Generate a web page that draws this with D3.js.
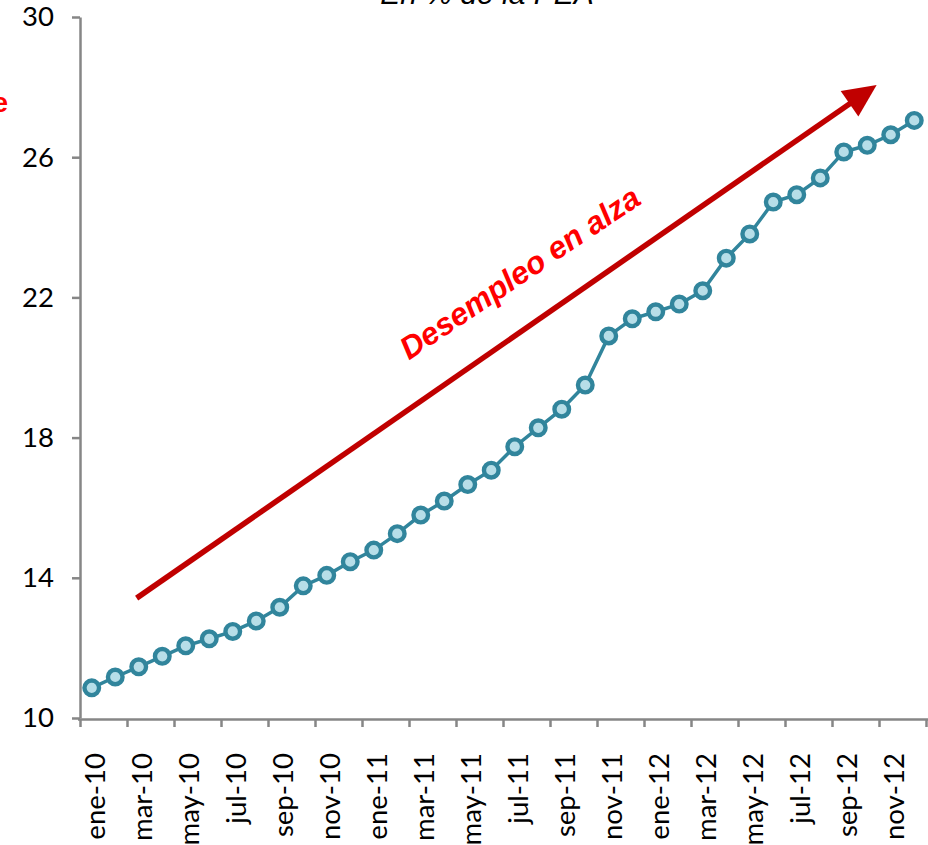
<!DOCTYPE html>
<html>
<head>
<meta charset="utf-8">
<script src="https://cdn.jsdelivr.net/npm/d3@7"></script>
<style>
  html, body { margin: 0; padding: 0; background: #fff; }
  svg { display: block; }
</style>
</head>
<body>
<div id="chart"></div>
<script>
// Monthly unemployment rate, % of the economically active population (PEA)
const monthNames = ["ene", "feb", "mar", "abr", "may", "jun", "jul", "ago", "sep", "oct", "nov", "dic"];
const years = ["10", "11", "12"];
const months = years.flatMap(yr => monthNames.map(m => `${m}-${yr}`));

const tasaDesempleo = [
  10.86, 11.17, 11.46, 11.76, 12.06, 12.26, 12.47, 12.77, 13.16, 13.77, 14.07, 14.46,
  14.79, 15.26, 15.79, 16.19, 16.66, 17.07, 17.74, 18.28, 18.81, 19.50, 20.90, 21.39,
  21.59, 21.81, 22.19, 23.12, 23.81, 24.72, 24.93, 25.41, 26.15, 26.34, 26.64, 27.05
];

const yTicks = [10, 14, 18, 22, 26, 30];
const xLabelMonths = months.filter((m, i) => i % 2 === 0);

const titulo = "En % de la PEA";
const anotacion = "Desempleo en alza";
// trend arrow and its caption, in (category index, value) units
const flechaDesde = [1.91, 13.42];
const flechaHasta = [33.40, 28.06];
const anotacionEn = [13.5, 20.2];

const W = 928, H = 845;
const plotLeft = 80, plotRight = 926, plotTop = 17, plotBottom = 718;

const svg = d3.select("#chart").append("svg")
  .attr("width", W).attr("height", H)
  .attr("viewBox", `0 0 ${W} ${H}`);

const x = d3.scaleBand().domain(months).range([plotLeft, plotRight]).padding(0);
const xEdge = d3.scaleLinear().domain([0, months.length]).range([plotLeft, plotRight]);
const xPos = i => xEdge(i + 0.5);
const y = d3.scaleLinear().domain([10, 30]).range([plotBottom, plotTop]);

const axisColor = "#868686";

// Title (sits at the very top edge)
svg.append("text")
  .attr("x", 487).attr("y", 4)
  .attr("text-anchor", "middle")
  .attr("font-family", "'Liberation Sans', Arial, sans-serif")
  .attr("font-style", "italic")
  .attr("font-size", 30)
  .attr("fill", "#000")
  .text(titulo);

// Red word fragment on the left edge
svg.append("text")
  .attr("x", 8).attr("y", 112)
  .attr("text-anchor", "end")
  .attr("font-family", "'Liberation Sans', Arial, sans-serif")
  .attr("font-weight", "bold")
  .attr("font-size", 28)
  .attr("fill", "#ff0000")
  .text("e");

// Y axis
const yAxis = svg.append("g")
  .attr("transform", `translate(${plotLeft},0)`)
  .call(d3.axisLeft(y).tickValues(yTicks).tickSize(8).tickSizeOuter(0).tickPadding(18));
yAxis.select(".domain").attr("stroke", axisColor).attr("stroke-width", 2.5);
yAxis.selectAll(".tick line").attr("stroke", axisColor).attr("stroke-width", 2.5);
yAxis.selectAll(".tick text")
  .attr("font-family", "Lato, 'Open Sans', sans-serif")
  .attr("font-size", 27.5)
  .attr("fill", "#000");

// X axis with tick marks between every two months
const xAxis = svg.append("g")
  .attr("transform", `translate(0,${plotBottom + 1})`)
  .call(d3.axisBottom(xEdge).tickValues(d3.range(0, months.length + 1, 2)).tickFormat("").tickSize(8).tickSizeOuter(0));
xAxis.select(".domain").attr("stroke", axisColor).attr("stroke-width", 2.5)
  .attr("d", `M${plotLeft - 2},0.5H${W}`);
xAxis.selectAll(".tick line").attr("stroke", axisColor).attr("stroke-width", 2.5);

// Month labels, rotated
svg.append("g").selectAll("text")
  .data(xLabelMonths)
  .join("text")
  .attr("transform", d => `translate(${x(d) + x.bandwidth() / 2 + 13},753) rotate(-90) scale(1.06,1)`)
  .attr("text-anchor", "end")
  .attr("font-family", "Lato, 'Open Sans', sans-serif")
  .attr("font-size", 26)
  .attr("fill", "#000")
  .text(d => d);

// Trend arrow
const ax0 = xPos(flechaDesde[0]), ay0 = y(flechaDesde[1]);
const ax1 = xPos(flechaHasta[0]), ay1 = y(flechaHasta[1]);
const ang = Math.atan2(ay1 - ay0, ax1 - ax0);
const headLen = 33, headHalf = 15.5;
const bx = ax1 - headLen * Math.cos(ang), by = ay1 - headLen * Math.sin(ang);
svg.append("line")
  .attr("x1", ax0).attr("y1", ay0)
  .attr("x2", bx + 2 * Math.cos(ang)).attr("y2", by + 2 * Math.sin(ang))
  .attr("stroke", "#c00000").attr("stroke-width", 5.5);
svg.append("path")
  .attr("d", `M${ax1},${ay1}L${bx - headHalf * Math.sin(ang)},${by + headHalf * Math.cos(ang)}L${bx + headHalf * Math.sin(ang)},${by - headHalf * Math.cos(ang)}Z`)
  .attr("fill", "#c00000");

// Arrow caption
svg.append("text")
  .attr("transform", `translate(${xPos(anotacionEn[0])},${y(anotacionEn[1])}) rotate(-34)`)
  .attr("font-family", "'Liberation Sans', Arial, sans-serif")
  .attr("font-weight", "bold")
  .attr("font-style", "italic")
  .attr("font-size", 31.5)
  .attr("fill", "#ff0000")
  .text(anotacion);

// Series line
const line = d3.line()
  .x((d, i) => x(months[i]) + x.bandwidth() / 2)
  .y(d => y(d));
svg.append("path")
  .datum(tasaDesempleo)
  .attr("d", line)
  .attr("fill", "none")
  .attr("stroke", "#31859c")
  .attr("stroke-width", 3.5);

// Markers
svg.append("g").selectAll("circle")
  .data(tasaDesempleo)
  .join("circle")
  .attr("cx", (d, i) => x(months[i]) + x.bandwidth() / 2)
  .attr("cy", d => y(d))
  .attr("r", 7.3)
  .attr("fill", "#b7dee8")
  .attr("stroke", "#31859c")
  .attr("stroke-width", 4.4);
</script>
</body>
</html>
